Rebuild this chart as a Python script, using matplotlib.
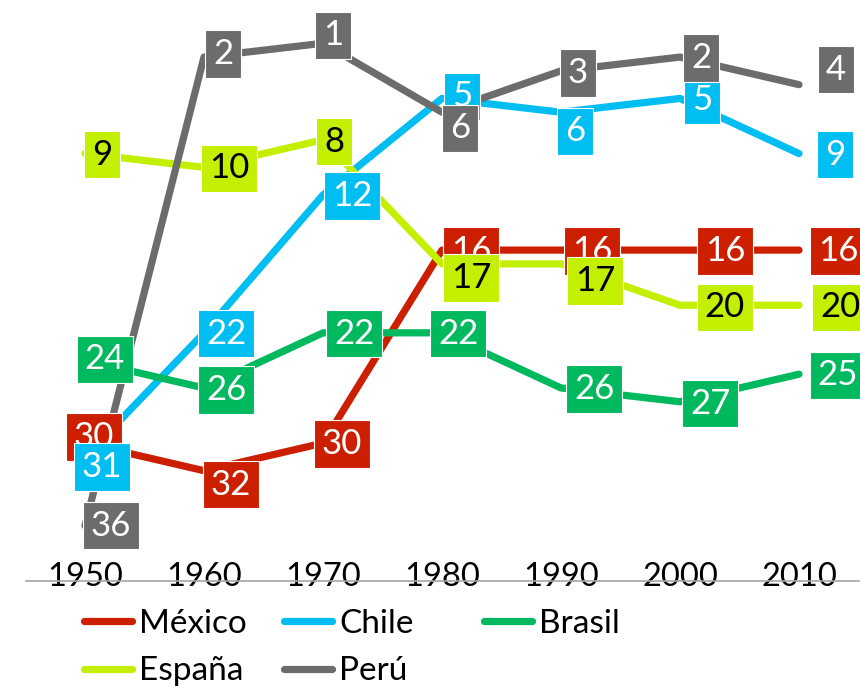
import matplotlib
matplotlib.use('Agg')
import matplotlib.pyplot as plt

# ---- data ----
years = ['1950', '1960', '1970', '1980', '1990', '2000', '2010']
countries = ['México', 'Chile', 'Brasil', 'España', 'Perú']
mexico = [30, 32, 30, 16, 16, 16, 16]
chile = [31, 22, 12, 5, 6, 5, 9]
brasil = [24, 26, 22, 22, 26, 27, 25]
espana = [9, 10, 8, 17, 17, 20, 20]
peru = [36, 2, 1, 6, 3, 2, 4]

# ---- styles ----
colors = {'México': '#CC1F00', 'Chile': '#00BDF2', 'Brasil': '#00B95F',
          'España': '#C3EF00', 'Perú': '#6C6C6C'}
text_colors = {'México': 'white', 'Chile': 'white', 'Brasil': 'white',
               'España': 'black', 'Perú': 'white'}
# label centre offsets from the data point, in pixels (right, down)
offsets = {
    'México': [(9, -6), (27, 14), (19, 1), (29, 1), (31, 1), (45, 1), (39, 1)],
    'Chile':  [(17, 10), (22, 1), (29, 1), (20, -2), (14, 19), (22, 2), (36, 1)],
    'Brasil': [(20, -1), (22, 2), (31, 1), (16, 1), (33, 1), (30, 2), (39, 1)],
    'España': [(17, 1), (25, 1), (11, 2), (29, 14), (34, 17), (45, 2), (41, 2)],
    'Perú':   [(26, 0), (19, -3), (10, -8), (18, 16), (17, 2), (21, 1), (37, -15)],
}

series = {'México': mexico, 'Chile': chile, 'Brasil': brasil,
          'España': espana, 'Perú': peru}

plt.rcParams['font.family'] = ['Lato', 'DejaVu Sans']

W, H = 860, 689
fig = plt.figure(figsize=(W / 100, H / 100), dpi=100)
ax = fig.add_axes([25.5 / W, 1 - 581 / H, 833 / W, (581 - 29.5) / H])

x = list(range(len(years)))
handles = {}
for i, name in enumerate(countries):
    vals = series[name]
    ln, = ax.plot(x, vals, color=colors[name], lw=5.2, solid_capstyle='round',
                  solid_joinstyle='round', zorder=2 + i * 0.1)
    handles[name] = ln
    for j, v in enumerate(vals):
        dx, dy = offsets[name][j]
        ax.annotate(str(v), (x[j], v), xytext=(dx, -dy), textcoords='offset pixels',
                    ha='center', va='center', fontsize=25, color=text_colors[name],
                    bbox=dict(boxstyle='square,pad=0.22', fc=colors[name],
                              ec='white', lw=0.8),
                    zorder=10 + i, annotation_clip=False)

ax.set_xlim(-0.5, 6.5)
ax.set_ylim(40, 0)
ax.set_xticks(x, years)
ax.set_yticks([])
ax.tick_params(axis='x', length=0, labelsize=23.5, pad=-14)
for s in ['left', 'right', 'top']:
    ax.spines[s].set_visible(False)
ax.spines['bottom'].set_color('#A6A6A6')
ax.spines['bottom'].set_linewidth(1.2)
ax.spines['bottom'].set_zorder(3)

def add_legend(names, xpix, ypix):
    leg = fig.legend([handles[n] for n in names], names, loc='upper left',
                     bbox_to_anchor=(xpix / W, 1 - ypix / H), frameon=False,
                     fontsize=24, handlelength=1.45, handletextpad=0.22,
                     labelspacing=0.52, borderpad=0, borderaxespad=0)
    return leg

add_legend(['México', 'España'], 83.5, 609)
add_legend(['Chile', 'Perú'], 283.5, 609)
add_legend(['Brasil'], 483.5, 609)

fig.savefig('out.png', dpi=100)
